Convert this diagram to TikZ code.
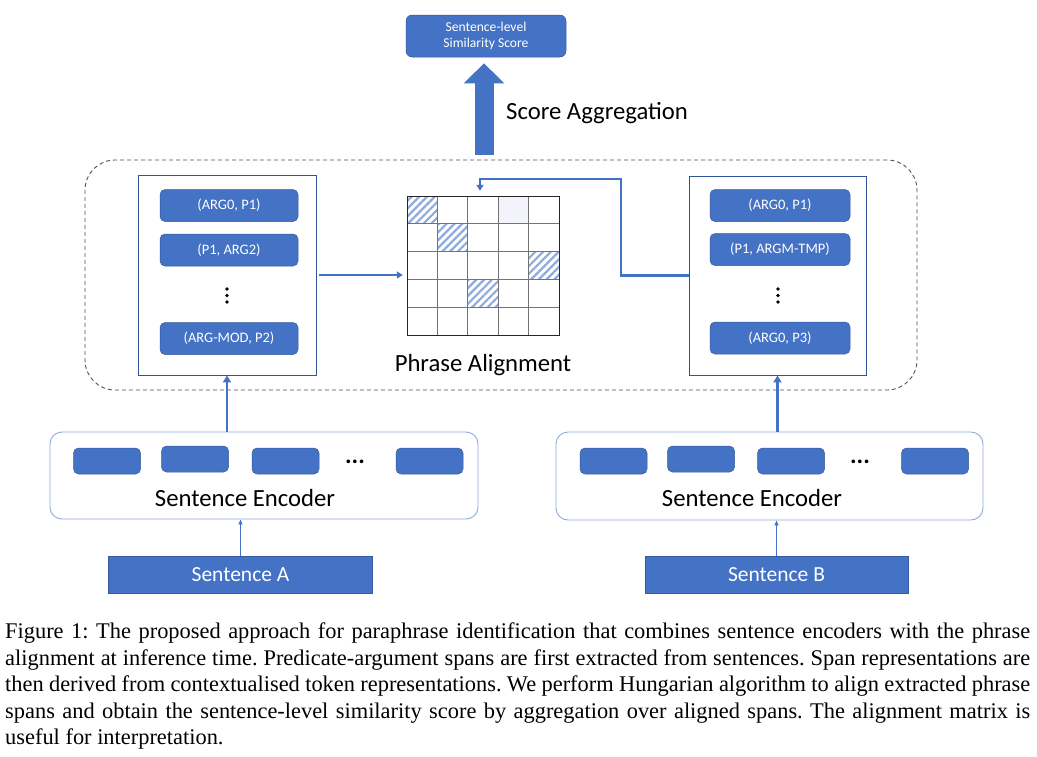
\documentclass[tikz,border=0pt]{standalone}
\usepackage{fontspec}
\setmainfont{Carlito}
\newfontfamily\capfont{Liberation Serif}
\usetikzlibrary{arrows.meta,patterns.meta}
\definecolor{blu}{HTML}{4472C4}
\definecolor{dkblu}{HTML}{2F5597}
\definecolor{ltblu}{HTML}{8FAADC}
\definecolor{dashc}{HTML}{44546A}
\definecolor{hatchc}{HTML}{8FAADC}
\definecolor{lav}{HTML}{F3F3FC}
\tikzset{
  bluebox/.style={draw=blu!80!black, line width=0.5pt, fill=blu, text=white, rounded corners=5pt, inner sep=0pt, font=\fontsize{14.5}{17}\selectfont},
  tokbox/.style={draw=blu!80!black, line width=0.5pt, fill=blu, rounded corners=5pt, inner sep=0pt, minimum width=67pt, minimum height=26pt},
  sentbox/.style={draw=blu!80!black, line width=0.5pt, fill=blu, text=white, inner sep=0pt, minimum width=264pt, minimum height=37pt, font=\fontsize{21.5}{24}\selectfont},
  panel/.style={draw=dkblu, line width=0.9pt, fill=white, inner sep=0pt},
  encbox/.style={draw=ltblu, line width=0.9pt, rounded corners=12pt, inner sep=0pt},
  bigtext/.style={font=\fontsize{24.7}{28}\selectfont, inner sep=0pt},
  flowarrow/.style={draw=blu, line width=2.6pt, -{Triangle[length=7pt,width=8pt]}},
  thinarrow/.style={draw=blu, line width=0.8pt, -{Triangle[length=5pt,width=4pt]}},
  hatched/.style={pattern={Lines[angle=45,distance=5.5pt,line width=2.2pt]}, pattern color=hatchc},
  dotstyle/.style={fill=black, circle, inner sep=0pt, minimum size=3.6pt}
}
\begin{document}
\begin{tikzpicture}[x=1pt,y=-1pt]
\useasboundingbox[fill=white] (0,0) rectangle (1037,756);

% top score box
\node[bluebox, minimum width=160pt, minimum height=42pt, rounded corners=6pt, align=center, font=\fontsize{13.6}{16.5}\selectfont] (score) at (486,36) {Sentence-level\\Similarity Score};

% dashed alignment container
\node[draw=dashc, dash pattern=on 4pt off 3pt, line width=0.9pt, rounded corners=30pt, minimum width=832pt, minimum height=230pt, inner sep=0pt] (align) at (501,275) {};

% big aggregation arrow
\coordinate (aggfoot) at (484,155);
\draw[draw=blu, line width=19pt, -{Triangle[length=20pt,width=39pt]}, shorten >=6pt] (aggfoot) -- (aggfoot |- score.south);
\node[bigtext, anchor=west] (agglabel) at (506,113) {Score Aggregation};

% left panel
\node[panel, minimum width=178pt, minimum height=200pt] (lp) at (227,275) {};
\node[bluebox, minimum width=138pt, minimum height=32pt] (l1) at (229,205.5) {(ARG0, P1)};
\node[bluebox, minimum width=138pt, minimum height=32pt] (l2) at (229,250) {(P1, ARG2)};
\node[bluebox, minimum width=138pt, minimum height=32pt] (l3) at (229,338.5) {(ARG-MOD, P2)};
\node[dotstyle] (ld1) at (227,289) {};
\node[dotstyle] (ld2) at (227,295.5) {};
\node[dotstyle] (ld3) at (227,302) {};

% right panel
\node[panel, minimum width=177pt, minimum height=199pt] (rp) at (777.5,275.5) {};
\node[bluebox, minimum width=140pt, minimum height=32pt] (r1) at (780,205.5) {(ARG0, P1)};
\node[bluebox, minimum width=140pt, minimum height=32pt] (r2) at (780,249.5) {(P1, ARGM-TMP)};
\node[bluebox, minimum width=140pt, minimum height=32pt] (r3) at (780,338) {(ARG0, P3)};
\node[dotstyle] (rd1) at (778,289) {};
\node[dotstyle] (rd2) at (778,295.5) {};
\node[dotstyle] (rd3) at (778,302) {};

% alignment grid
\node[minimum width=152pt, minimum height=139pt, inner sep=0pt] (grid) at (483,265.5) {};
\def\cw{30.4}\def\ch{27.8}
\begin{scope}[shift={(407,196)}]
  \fill[lav] (3*\cw,0) rectangle (4*\cw,\ch);
  \fill[hatched] (0,0) rectangle (\cw,\ch);
  \fill[hatched] (\cw,\ch) rectangle (2*\cw,2*\ch);
  \fill[hatched] (4*\cw,2*\ch) rectangle (5*\cw,3*\ch);
  \fill[hatched] (2*\cw,3*\ch) rectangle (3*\cw,4*\ch);
  \foreach \i in {1,2,3,4} {
    \draw[black!55, line width=0.8pt] (\i*\cw,0) -- (\i*\cw,5*\ch);
    \draw[black!55, line width=0.8pt] (0,\i*\ch) -- (5*\cw,\i*\ch);
  }
  \draw[black!85, line width=0.9pt] (0,0) rectangle (5*\cw,5*\ch);
\end{scope}
\node[bigtext] (palabel) at (483,365) {Phrase Alignment};

% panel -> grid arrows
\draw[draw=blu, line width=2.4pt, -{Triangle[length=6pt,width=7pt]}, shorten <=3pt, shorten >=4pt] (lp.east) -- (lp.east -| grid.west);
\coordinate (bend) at (621,179);
\coordinate (drop) at (480,179);
\draw[draw=blu, line width=2.4pt, -{Triangle[length=6pt,width=7pt]}, shorten >=5pt] (rp.west) -| (bend) -- (drop) -- (drop |- grid.north);

% encoders
\node[encbox, minimum width=428pt, minimum height=87pt] (encA) at (264,475.5) {};
\node[encbox, minimum width=427pt, minimum height=88pt] (encB) at (769.5,476) {};
\node[tokbox] (a1) at (107,461) {};
\node[tokbox] (a2) at (195,459) {};
\node[tokbox] (a3) at (285.5,461) {};
\node[tokbox] (a4) at (429.5,461) {};
\node[bigtext] (adots) at (355,462) {\textbf{...}};
\node[tokbox] (b1) at (613.5,461) {};
\node[tokbox] (b2) at (701,459) {};
\node[tokbox] (b3) at (791,461) {};
\node[tokbox] (b4) at (935,461) {};
\node[bigtext] (bdots) at (860,462) {\textbf{...}};
\node[bigtext] (encAlabel) at (245,498) {Sentence Encoder};
\node[bigtext] (encBlabel) at (752,498) {Sentence Encoder};

% encoder -> panel arrows
\draw[flowarrow] (lp.south |- encA.north) -- (lp.south);
\draw[flowarrow] (rp.south |- encB.north) -- (rp.south);

% sentences
\node[sentbox] (sa) at (240.5,574.5) {Sentence A};
\node[sentbox, minimum width=263pt] (sb) at (776.5,574.5) {Sentence B};
\draw[thinarrow] (sa.north) -- (sa.north |- encA.south);
\draw[thinarrow] (sb.north) -- (sb.north |- encB.south);

% caption
\node[anchor=north west, inner sep=0pt] (caption) at (5,623) {\vbox{\capfont\fontsize{22.4}{26.4}\selectfont\frenchspacing
\hbox to 1025pt{Figure 1: The proposed approach for paraphrase identification that combines sentence encoders with the phrase}
\hbox to 1025pt{alignment at inference time. Predicate-argument spans are first extracted from sentences. Span representations are}
\hbox to 1025pt{then derived from contextualised token representations. We perform Hungarian algorithm to align extracted phrase}
\hbox to 1025pt{spans and obtain the sentence-level similarity score by aggregation over aligned spans. The alignment matrix is}
\hbox{useful for interpretation.}}};
\end{tikzpicture}
\end{document}
